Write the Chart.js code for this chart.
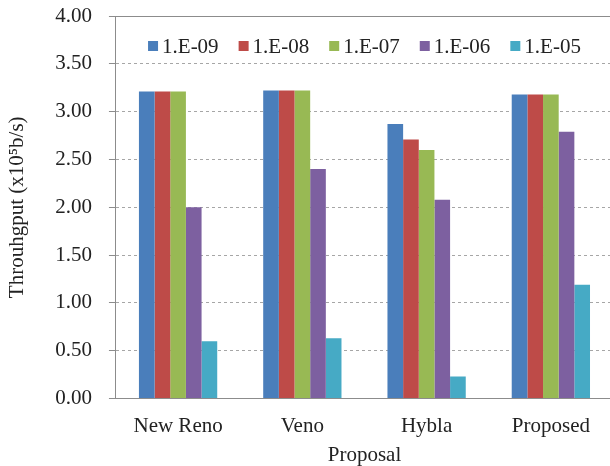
<!DOCTYPE html>
<html>
<head>
<meta charset="utf-8">
<script src="https://cdn.jsdelivr.net/npm/chart.js@4/dist/chart.umd.min.js"></script>
<style>
  html, body { margin: 0; padding: 0; background: #fff; overflow: hidden; }
  #wrap { position: absolute; left: 0; top: 0; width: 616px; height: 466px; }
  #probe { position: absolute; left: -1000px; top: 0; font: 21px "Liberation Serif"; }
</style>
</head>
<body>
<div id="probe">1.E-09 Proposal</div>
<div id="wrap"><canvas id="c"></canvas></div>
<script>
const categories = ['New Reno', 'Veno', 'Hybla', 'Proposed'];
const seriesLabels = ['1.E-09', '1.E-08', '1.E-07', '1.E-06', '1.E-05'];
const ber1e09 = [3.21, 3.22, 2.87, 3.18];
const ber1e08 = [3.21, 3.22, 2.71, 3.18];
const ber1e07 = [3.21, 3.22, 2.60, 3.18];
const ber1e06 = [2.00, 2.40, 2.08, 2.79];
const ber1e05 = [0.60, 0.63, 0.23, 1.19];
const yTicks = [0, 0.5, 1, 1.5, 2, 2.5, 3, 3.5, 4];

const colors = ['#4A7EBB', '#BE4B48', '#98B954', '#7D60A0', '#46AAC5'];
const FONT = '"Liberation Serif", "Times New Roman", Times, serif';
const TEXT = '#222222';
const AXIS = '#8c8c8c';

const seriesValues = [ber1e09, ber1e08, ber1e07, ber1e06, ber1e05];

const insideLegend = {
  id: 'insideLegend',
  afterDatasetsDraw(chart) {
    const {ctx, chartArea} = chart;
    ctx.save();
    ctx.font = '21px ' + FONT;
    ctx.textBaseline = 'middle';
    ctx.textAlign = 'left';
    const box = 10, gap = 4, spacing = 20;
    const items = chart.data.datasets.map(ds => ({
      label: ds.label, color: ds.backgroundColor,
      tw: ctx.measureText(ds.label).width
    }));
    const total = items.reduce((s, it) => s + box + gap + it.tw, 0) + spacing * (items.length - 1);
    let x = (chartArea.left + chartArea.right) / 2 - total / 2;
    const y = chartArea.top + 30;
    items.forEach(it => {
      ctx.fillStyle = it.color;
      ctx.fillRect(x, y - box / 2, box, box);
      ctx.fillStyle = TEXT;
      ctx.fillText(it.label, x + box + gap, y + 1);
      x += box + gap + it.tw + spacing;
    });
    ctx.restore();
  }
};

const topLine = {
  id: 'topLine',
  afterDatasetsDraw(chart) {
    const {ctx, chartArea} = chart;
    const ys = chart.scales.y;
    const yy = Math.round(ys.getPixelForValue(ys.max)) + 0.5;
    ctx.save();
    ctx.strokeStyle = AXIS;
    ctx.lineWidth = 1;
    ctx.beginPath();
    ctx.moveTo(chartArea.left, yy);
    ctx.lineTo(chartArea.right, yy);
    ctx.stroke();
    ctx.restore();
  }
};

function draw() {
  new Chart(document.getElementById('c'), {
    type: 'bar',
    data: {
      labels: categories,
      datasets: seriesLabels.map((lab, i) => ({
        label: lab,
        data: seriesValues[i],
        backgroundColor: colors[i],
        borderWidth: 0,
        categoryPercentage: 0.63,
        barPercentage: 1.0
      }))
    },
    options: {
      responsive: true,
      maintainAspectRatio: false,
      animation: false,
      layout: { padding: { top: 16, right: 3, bottom: -2, left: 0 } },
      plugins: {
        legend: { display: false },
        tooltip: { enabled: false }
      },
      scales: {
        x: {
          grid: { display: false, drawTicks: false },
          border: { display: true, color: AXIS, width: 1 },
          ticks: { color: TEXT, font: { family: FONT, size: 21 }, padding: 15, maxRotation: 0 },
          title: {
            display: true, text: 'Proposal', color: TEXT,
            font: { family: FONT, size: 21 }, padding: { top: -11, bottom: 0 }
          }
        },
        y: {
          min: 0, max: 4,
          afterBuildTicks(scale) { scale.ticks = yTicks.map(v => ({ value: v })); },
          afterFit(scale) { scale.paddingTop = 12; scale.paddingBottom = 12; },
          grid: {
            color: ctx => (ctx.tick && ctx.tick.value === 4) ? 'rgba(0,0,0,0)' : '#a6a6a6',
            lineWidth: 1,
            drawTicks: true,
            tickLength: 7,
            tickColor: AXIS,
            tickBorderDash: []
          },
          border: { display: true, color: AXIS, width: 1, dash: [3, 3] },
          ticks: {
            color: TEXT, font: { family: FONT, size: 21 }, padding: 17,
            callback: v => Number(v).toFixed(2)
          },
          title: {
            display: true, text: 'Throuhgput (x10⁵b/s)', color: TEXT,
            font: { family: FONT, size: 21 }, padding: { top: 5, bottom: 8 }
          }
        }
      }
    },
    plugins: [topLine, insideLegend]
  });
}

if (document.fonts && document.fonts.load) {
  document.fonts.load('21px "Liberation Serif"').then(draw, draw);
} else {
  draw();
}
</script>
</body>
</html>
